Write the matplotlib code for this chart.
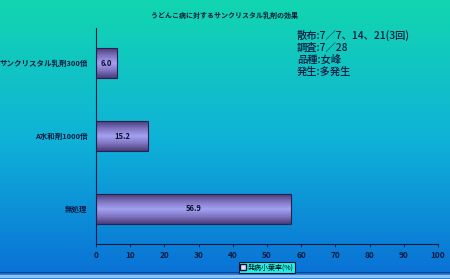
import numpy as np
import matplotlib
matplotlib.use("Agg")
import matplotlib.pyplot as plt
from matplotlib.colors import LinearSegmentedColormap
from matplotlib.patches import Patch

plt.rcParams['font.family'] = ['Noto Sans CJK JP', 'DejaVu Sans']

title = "うどんこ病に対するサンクリスタル乳剤の効果"
categories = ["サンクリスタル乳剤300倍", "A水和剤1000倍", "無処理"]
values = [6.0, 15.2, 56.9]
value_labels = ["6.0", "15.2", "56.9"]
series_name = "発病小葉率(%)"
xticks = [0, 10, 20, 30, 40, 50, 60, 70, 80, 90, 100]
note_lines = ["散布:7／7、14、21(3回)", "調査:7／28", "品種:女峰", "発生:多発生"]

W, H = 450, 279
fig = plt.figure(figsize=(W / 100, H / 100), dpi=100)

# background gradient
bg = fig.add_axes([0, 0, 1, 1], zorder=0)
bg_cmap = LinearSegmentedColormap.from_list(
    "bg", [(0.0, "#0a6fd6"), (0.5, "#0fb2d8"), (1.0, "#12d6b0")])
grad = np.linspace(0, 1, 256).reshape(-1, 1)
bg.imshow(grad, aspect="auto", cmap=bg_cmap, origin="lower", extent=[0, 1, 0, 1])
bg.axhline(0.012, color="#8fc0f2", lw=2.5)
bg.axhline(0.025, color="#0a3f8a", lw=0.8)
bg.set_xlim(0, 1); bg.set_ylim(0, 1)
bg.axis("off")

ax = fig.add_axes([96 / W, 1 - 244 / H, (438 - 96) / W, (244 - 28) / H], zorder=1)
ax.patch.set_alpha(0)

ypos = np.arange(len(categories))
bars = ax.barh(ypos, values, height=0.41, color="none", edgecolor="#2a2050", lw=0.8, zorder=3)

bar_cmap = LinearSegmentedColormap.from_list(
    "bar", [(0.0, "#4a3a78"), (0.25, "#7e74c0"), (0.5, "#a4a2f4"), (0.75, "#7e74c0"), (1.0, "#4a3a78")])
for b in bars:
    x0, y0 = b.get_x(), b.get_y()
    w, h = b.get_width(), b.get_height()
    im = ax.imshow(grad, aspect="auto", cmap=bar_cmap, extent=[x0, x0 + w, y0, y0 + h],
                   zorder=2, interpolation="bilinear")
    im.set_clip_path(b)

for yp, v, lab in zip(ypos, values, value_labels):
    ax.text(v / 2, yp, lab, ha="center", va="center", fontsize=5.5, fontweight="bold",
            color="#101030", zorder=4)

ax.set_xlim(0, 100)
ax.set_ylim(2.48, -0.48)
ax.set_xticks(xticks)
ax.set_xticklabels([str(t) for t in xticks])
ax.set_yticks(ypos)
ax.set_yticklabels(categories)
ax.tick_params(axis="x", direction="out", length=2, width=0.6, colors="#0a1a40",
               labelsize=6, pad=3)
ax.tick_params(axis="y", length=0, labelsize=5.4, colors="#0a1a40", pad=6)
for t in ax.get_yticklabels() + ax.get_xticklabels():
    t.set_fontweight("bold")
for s in ["top", "right"]:
    ax.spines[s].set_visible(False)
for s in ["left", "bottom"]:
    ax.spines[s].set_color("#0a1a40")
    ax.spines[s].set_linewidth(0.8)

fig.text(0.5, 1 - 15 / H, title, ha="center", va="center", fontsize=5.0,
         fontweight="bold", color="#0a1a30")

fig.text(297 / W, 1 - 30 / H, "\n".join(note_lines), ha="left", va="top",
         fontsize=7.4, color="#0a1a40", linespacing=1.2, fontweight="medium")

leg = fig.legend(handles=[Patch(facecolor="#e0e0ff", edgecolor="#101030", label=series_name)],
                 loc="center", bbox_to_anchor=(267 / W, 1 - 267.5 / H), fontsize=5,
                 frameon=True, fancybox=False, handlelength=0.8, handleheight=0.8,
                 handletextpad=0.3, borderpad=0.25, borderaxespad=0)
leg.get_frame().set_facecolor("#22f0e6")
leg.get_frame().set_edgecolor("#101030")
leg.get_frame().set_linewidth(0.8)
leg.get_frame().set_alpha(1)

fig.savefig("out.png", dpi=100)
